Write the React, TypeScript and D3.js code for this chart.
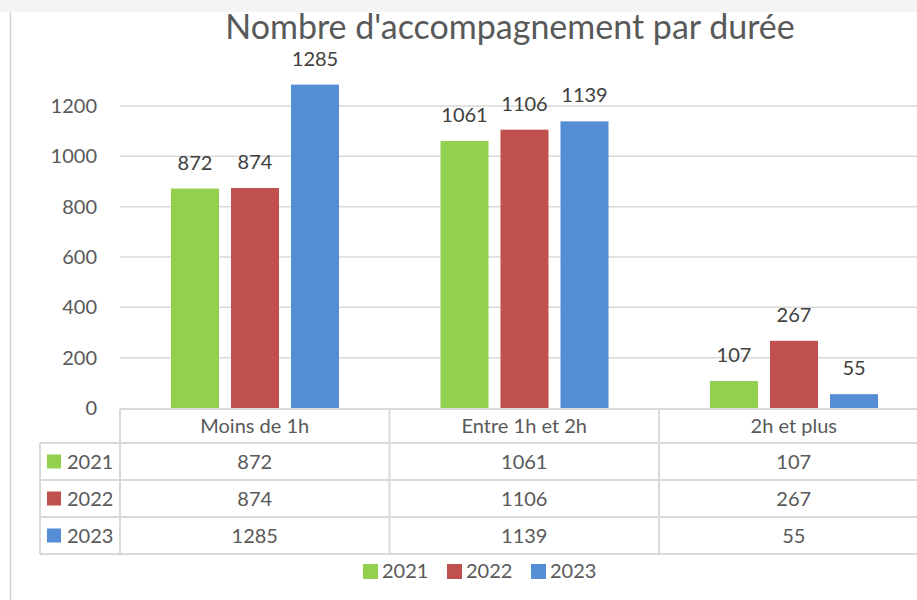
import React from 'react';
import * as d3 from 'd3';

const categories = ['Moins de 1h', 'Entre 1h et 2h', '2h et plus'];
const years = ['2021', '2022', '2023'];
const values2021 = [872, 1061, 107];
const values2022 = [874, 1106, 267];
const values2023 = [1285, 1139, 55];
const yTicks = [0, 200, 400, 600, 800, 1000, 1200];
const colors = ['#92d050', '#c0504d', '#558ed5'];

const W = 917;
const H = 600;
const FONT = 'Lato, "Open Sans", sans-serif';
const TEXT = '#595959';
const LINE = '#d9d9d9';
const FS = 20;

const App: React.FC = () => {
	const series = [values2021, values2022, values2023];
	const plotLeft = 120;
	const x = d3.scaleBand<string>().domain(categories).range([plotLeft, plotLeft + 269.5 * 3]);
	const xInner = d3.scaleBand<string>().domain(years).range([51, 219]).paddingInner(0.2);
	const y = d3.scaleLinear().domain([0, 1200]).range([408, 106]);

	const tableTop = 409;
	const headerH = 34;
	const rowH = 37;
	const tableLeft = 40;
	const tableBottom = tableTop + headerH + rowH * 3;

	return (
		<div style={{ position: 'fixed', left: 0, top: 0 }}>
			<svg width={W} height={H} style={{ display: 'block', fontFamily: FONT }}>
				<rect x={0} y={0} width={W} height={H} fill="#fff" />
				<rect x={0} y={0} width={W} height={12} fill="#f4f4f4" />
				<line x1={10.5} x2={10.5} y1={12} y2={H} stroke="#d4d4d4" strokeWidth={1.5} />

				<text x={510} y={39} textAnchor="middle" fontSize={34} fill={TEXT}>
					Nombre d'accompagnement par durée
				</text>

				{/* grid and y axis */}
				{yTicks.map((t) => (
					<g key={t}>
						{t > 0 && <line x1={plotLeft} x2={W} y1={y(t)} y2={y(t)} stroke={LINE} strokeWidth={1.5} />}
						<text x={97} y={y(t)} dy="0.35em" textAnchor="end" fontSize={FS} fill={TEXT}>
							{t}
						</text>
					</g>
				))}

				{/* bars */}
				{categories.map((c, ci) => (
					<g key={c} transform={`translate(${x(c)},0)`}>
						{years.map((yr, si) => {
							const v = series[si][ci];
							const bx = xInner(yr) as number;
							return (
								<g key={yr}>
									<rect x={bx} y={y(v)} width={xInner.bandwidth()} height={y(0) - y(v)} fill={colors[si]} />
									<text x={bx + xInner.bandwidth() / 2} y={y(v) - 26} dy="0.35em" textAnchor="middle" fontSize={FS} fill="#404040">
										{v}
									</text>
								</g>
							);
						})}
					</g>
				))}

				{/* data table */}
				<g stroke={LINE} strokeWidth={2} fill="none">
					<line x1={plotLeft} x2={W} y1={tableTop} y2={tableTop} />
					<line x1={tableLeft} x2={W} y1={tableTop + headerH} y2={tableTop + headerH} />
					{years.map((yr, i) => (
						<line key={yr} x1={tableLeft} x2={W} y1={tableTop + headerH + rowH * (i + 1)} y2={tableTop + headerH + rowH * (i + 1)} />
					))}
					<line x1={tableLeft} x2={tableLeft} y1={tableTop + headerH} y2={tableBottom} />
					{categories.map((c) => (
						<line key={c} x1={x(c)} x2={x(c)} y1={tableTop} y2={tableBottom} />
					))}
				</g>
				{categories.map((c) => (
					<text key={c} x={(x(c) as number) + x.bandwidth() / 2} y={tableTop + headerH / 2} dy="0.35em" textAnchor="middle" fontSize={FS} fill={TEXT}>
						{c}
					</text>
				))}
				{years.map((yr, si) => {
					const cy = tableTop + headerH + rowH * si + rowH / 2;
					return (
						<g key={yr}>
							<rect x={47} y={cy - 7} width={14} height={14} fill={colors[si]} />
							<text x={67} y={cy} dy="0.35em" fontSize={FS} fill={TEXT}>
								{yr}
							</text>
							{categories.map((c, ci) => (
								<text key={c} x={(x(c) as number) + x.bandwidth() / 2} y={cy} dy="0.35em" textAnchor="middle" fontSize={FS} fill={TEXT}>
									{series[si][ci]}
								</text>
							))}
						</g>
					);
				})}

				{/* legend */}
				{years.map((yr, si) => (
					<g key={yr} transform={`translate(${363 + si * 84},571)`}>
						<rect x={0} y={-7} width={15} height={15} fill={colors[si]} />
						<text x={19} y={0} dy="0.35em" fontSize={FS} fill={TEXT}>
							{yr}
						</text>
					</g>
				))}
			</svg>
		</div>
	);
};

export default App;
